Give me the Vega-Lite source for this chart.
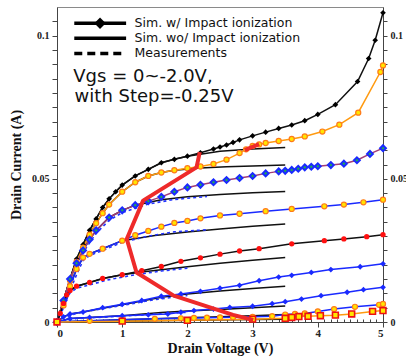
{
"$schema": "https://vega.github.io/schema/vega-lite/v6.json",
"width": 326, "height": 315,
"autosize": {"type": "none"},
"padding": {"left": 57, "top": 7, "right": 23, "bottom": 38},
"background": "white",
"config": {
 "view": {"stroke": "#8a8a8a", "strokeWidth": 1},
 "axis": {"grid": false, "domainColor": "#444", "tickColor": "#444", "labelFont": "Liberation Serif", "labelFontWeight": "bold", "labelFontSize": 10, "labelColor": "#222", "titleFont": "Liberation Serif", "titleFontWeight": "bold", "titleFontSize": 14, "titleColor": "#111", "labelOverlap": false, "labelBound": false}
},
"datasets": {
 "sim": [
  {"s":"c1","x":0,"y":0},{"s":"c1","x":0.1,"y":0.0074},{"s":"c1","x":0.2,"y":0.015},{"s":"c1","x":0.3,"y":0.022},{"s":"c1","x":0.4,"y":0.027},{"s":"c1","x":0.5,"y":0.032},{"s":"c1","x":0.6,"y":0.036},{"s":"c1","x":0.7,"y":0.04},{"s":"c1","x":0.8,"y":0.043},{"s":"c1","x":0.9,"y":0.0455},{"s":"c1","x":1.0,"y":0.0478},{"s":"c1","x":1.2,"y":0.051},{"s":"c1","x":1.4,"y":0.0533},{"s":"c1","x":1.6,"y":0.0556},{"s":"c1","x":1.8,"y":0.0568},{"s":"c1","x":2.0,"y":0.0579},{"s":"c1","x":2.2,"y":0.0591},{"s":"c1","x":2.4,"y":0.0604},{"s":"c1","x":2.5,"y":0.0611},{"s":"c1","x":2.6,"y":0.0618},{"s":"c1","x":2.7,"y":0.0627},{"s":"c1","x":2.8,"y":0.0636},{"s":"c1","x":3.0,"y":0.065},{"s":"c1","x":3.2,"y":0.0663},{"s":"c1","x":3.4,"y":0.0676},{"s":"c1","x":3.6,"y":0.0688},{"s":"c1","x":3.8,"y":0.0703},{"s":"c1","x":4.0,"y":0.0725},{"s":"c1","x":4.27,"y":0.0759},{"s":"c1","x":4.61,"y":0.084},{"s":"c1","x":4.78,"y":0.092},{"s":"c1","x":4.88,"y":0.0984},{"s":"c1","x":5.0,"y":0.108},
  {"s":"c2","x":0,"y":0},{"s":"c2","x":0.1,"y":0.007},{"s":"c2","x":0.2,"y":0.0145},{"s":"c2","x":0.3,"y":0.021},{"s":"c2","x":0.4,"y":0.026},{"s":"c2","x":0.5,"y":0.0305},{"s":"c2","x":0.6,"y":0.0345},{"s":"c2","x":0.7,"y":0.038},{"s":"c2","x":0.8,"y":0.041},{"s":"c2","x":1.0,"y":0.0455},{"s":"c2","x":1.2,"y":0.0488},{"s":"c2","x":1.4,"y":0.051},{"s":"c2","x":1.6,"y":0.0522},{"s":"c2","x":1.8,"y":0.053},{"s":"c2","x":2.0,"y":0.0537},{"s":"c2","x":2.2,"y":0.0543},{"s":"c2","x":2.4,"y":0.0552},{"s":"c2","x":2.6,"y":0.0567},{"s":"c2","x":2.8,"y":0.059},{"s":"c2","x":2.9,"y":0.0603},{"s":"c2","x":3.0,"y":0.0615},{"s":"c2","x":3.1,"y":0.062},{"s":"c2","x":3.2,"y":0.0625},{"s":"c2","x":3.4,"y":0.0632},{"s":"c2","x":3.6,"y":0.0639},{"s":"c2","x":3.8,"y":0.0648},{"s":"c2","x":4.07,"y":0.0665},{"s":"c2","x":4.33,"y":0.0689},{"s":"c2","x":4.62,"y":0.0731},{"s":"c2","x":4.96,"y":0.0873},{"s":"c2","x":5.0,"y":0.0896},
  {"s":"c3","x":0,"y":0},{"s":"c3","x":0.1,"y":0.0075},{"s":"c3","x":0.2,"y":0.015},{"s":"c3","x":0.3,"y":0.0205},{"s":"c3","x":0.4,"y":0.025},{"s":"c3","x":0.5,"y":0.0288},{"s":"c3","x":0.6,"y":0.032},{"s":"c3","x":0.8,"y":0.0365},{"s":"c3","x":1.0,"y":0.039},{"s":"c3","x":1.2,"y":0.0408},{"s":"c3","x":1.4,"y":0.0422},{"s":"c3","x":1.6,"y":0.0437},{"s":"c3","x":1.8,"y":0.0455},{"s":"c3","x":2.0,"y":0.047},{"s":"c3","x":2.2,"y":0.0479},{"s":"c3","x":2.4,"y":0.0488},{"s":"c3","x":2.6,"y":0.0496},{"s":"c3","x":2.8,"y":0.0503},{"s":"c3","x":3.0,"y":0.051},{"s":"c3","x":3.2,"y":0.0519},{"s":"c3","x":3.4,"y":0.0526},{"s":"c3","x":3.5,"y":0.0528},{"s":"c3","x":3.6,"y":0.0531},{"s":"c3","x":3.7,"y":0.0535},{"s":"c3","x":3.8,"y":0.054},{"s":"c3","x":3.9,"y":0.0542},{"s":"c3","x":4.0,"y":0.0544},{"s":"c3","x":4.2,"y":0.0548},{"s":"c3","x":4.4,"y":0.0553},{"s":"c3","x":4.6,"y":0.0565},{"s":"c3","x":4.8,"y":0.0587},{"s":"c3","x":5.0,"y":0.0607},
  {"s":"c4","x":0,"y":0},{"s":"c4","x":0.1,"y":0.0058},{"s":"c4","x":0.2,"y":0.0125},{"s":"c4","x":0.3,"y":0.0185},{"s":"c4","x":0.4,"y":0.0225},{"s":"c4","x":0.5,"y":0.0238},{"s":"c4","x":0.7,"y":0.0256},{"s":"c4","x":1.0,"y":0.0284},{"s":"c4","x":1.2,"y":0.0303},{"s":"c4","x":1.4,"y":0.0318},{"s":"c4","x":1.6,"y":0.0333},{"s":"c4","x":1.8,"y":0.0346},{"s":"c4","x":2.0,"y":0.0353},{"s":"c4","x":2.2,"y":0.0362},{"s":"c4","x":2.5,"y":0.0372},{"s":"c4","x":2.8,"y":0.0378},{"s":"c4","x":3.2,"y":0.0387},{"s":"c4","x":3.6,"y":0.0395},{"s":"c4","x":4.1,"y":0.0404},{"s":"c4","x":4.4,"y":0.041},{"s":"c4","x":4.7,"y":0.0418},{"s":"c4","x":5.0,"y":0.0427},
  {"s":"c5","x":0,"y":0},{"s":"c5","x":0.05,"y":0.003},{"s":"c5","x":0.1,"y":0.0065},{"s":"c5","x":0.15,"y":0.0095},{"s":"c5","x":0.2,"y":0.011},{"s":"c5","x":0.3,"y":0.0125},{"s":"c5","x":0.5,"y":0.0138},{"s":"c5","x":0.7,"y":0.0152},{"s":"c5","x":1.0,"y":0.0165},{"s":"c5","x":1.3,"y":0.0179},{"s":"c5","x":1.6,"y":0.0194},{"s":"c5","x":1.9,"y":0.0212},{"s":"c5","x":2.2,"y":0.0224},{"s":"c5","x":2.5,"y":0.0237},{"s":"c5","x":2.8,"y":0.0248},{"s":"c5","x":3.1,"y":0.0256},{"s":"c5","x":3.6,"y":0.0273},{"s":"c5","x":4.1,"y":0.0284},{"s":"c5","x":4.4,"y":0.029},{"s":"c5","x":4.75,"y":0.0298},{"s":"c5","x":5.0,"y":0.0305},
  {"s":"c6","x":0,"y":0},{"s":"c6","x":0.1,"y":0.0018},{"s":"c6","x":0.2,"y":0.0028},{"s":"c6","x":0.4,"y":0.0035},{"s":"c6","x":0.7,"y":0.005},{"s":"c6","x":1.0,"y":0.0062},{"s":"c6","x":1.3,"y":0.0075},{"s":"c6","x":1.6,"y":0.009},{"s":"c6","x":1.9,"y":0.0098},{"s":"c6","x":2.2,"y":0.0107},{"s":"c6","x":2.5,"y":0.0118},{"s":"c6","x":2.8,"y":0.0128},{"s":"c6","x":3.1,"y":0.0144},{"s":"c6","x":3.4,"y":0.0157},{"s":"c6","x":3.6,"y":0.0163},{"s":"c6","x":3.9,"y":0.0173},{"s":"c6","x":4.2,"y":0.0183},{"s":"c6","x":4.65,"y":0.0193},{"s":"c6","x":5.0,"y":0.0203},
  {"s":"c7","x":0,"y":0},{"s":"c7","x":0.2,"y":0.0012},{"s":"c7","x":0.5,"y":0.0016},{"s":"c7","x":1.0,"y":0.0022},{"s":"c7","x":1.4,"y":0.0025},{"s":"c7","x":1.7,"y":0.0028},{"s":"c7","x":1.9,"y":0.0034},{"s":"c7","x":2.1,"y":0.004},{"s":"c7","x":2.4,"y":0.0045},{"s":"c7","x":2.65,"y":0.0051},{"s":"c7","x":3.0,"y":0.0055},{"s":"c7","x":3.3,"y":0.0064},{"s":"c7","x":3.5,"y":0.0071},{"s":"c7","x":3.75,"y":0.008},{"s":"c7","x":4.05,"y":0.0092},{"s":"c7","x":4.45,"y":0.0104},{"s":"c7","x":4.7,"y":0.0113},{"s":"c7","x":5.0,"y":0.0121},
  {"s":"c8","x":0,"y":0},{"s":"c8","x":0.5,"y":0.0004},{"s":"c8","x":1.0,"y":0.0008},{"s":"c8","x":1.5,"y":0.0011},{"s":"c8","x":1.9,"y":0.0013},{"s":"c8","x":2.1,"y":0.0014},{"s":"c8","x":2.3,"y":0.0015},{"s":"c8","x":2.5,"y":0.0016},{"s":"c8","x":2.7,"y":0.0017},{"s":"c8","x":3.0,"y":0.0018},{"s":"c8","x":3.3,"y":0.002},{"s":"c8","x":3.5,"y":0.0026},{"s":"c8","x":3.65,"y":0.0028},{"s":"c8","x":3.8,"y":0.003},{"s":"c8","x":4.0,"y":0.0037},{"s":"c8","x":4.25,"y":0.0045},{"s":"c8","x":4.57,"y":0.0053},{"s":"c8","x":4.94,"y":0.006},{"s":"c8","x":5.0,"y":0.0063},
  {"s":"c9","x":0,"y":0},{"s":"c9","x":1.0,"y":0.0003},{"s":"c9","x":2.0,"y":0.0006},{"s":"c9","x":3.0,"y":0.001},{"s":"c9","x":3.5,"y":0.0013},{"s":"c9","x":3.6,"y":0.0016},{"s":"c9","x":3.71,"y":0.0019},{"s":"c9","x":3.85,"y":0.002},{"s":"c9","x":4.04,"y":0.0022},{"s":"c9","x":4.27,"y":0.0024},{"s":"c9","x":4.52,"y":0.0028},{"s":"c9","x":4.84,"y":0.0037},{"s":"c9","x":5.0,"y":0.004}
 ],
 "wo": [
  {"s":"w1","x":0,"y":0},{"s":"w1","x":0.1,"y":0.0074},{"s":"w1","x":0.2,"y":0.015},{"s":"w1","x":0.3,"y":0.022},{"s":"w1","x":0.4,"y":0.027},{"s":"w1","x":0.5,"y":0.032},{"s":"w1","x":0.6,"y":0.036},{"s":"w1","x":0.7,"y":0.04},{"s":"w1","x":0.8,"y":0.043},{"s":"w1","x":0.9,"y":0.0455},{"s":"w1","x":1.0,"y":0.0478},{"s":"w1","x":1.2,"y":0.051},{"s":"w1","x":1.4,"y":0.0533},{"s":"w1","x":1.6,"y":0.0556},{"s":"w1","x":1.8,"y":0.0568},{"s":"w1","x":2.0,"y":0.0579},{"s":"w1","x":2.5,"y":0.0596},{"s":"w1","x":3.0,"y":0.0604},{"s":"w1","x":3.5,"y":0.0609},
  {"s":"w2","x":0,"y":0},{"s":"w2","x":0.1,"y":0.007},{"s":"w2","x":0.2,"y":0.0145},{"s":"w2","x":0.3,"y":0.021},{"s":"w2","x":0.4,"y":0.026},{"s":"w2","x":0.5,"y":0.0305},{"s":"w2","x":0.6,"y":0.0345},{"s":"w2","x":0.7,"y":0.038},{"s":"w2","x":0.8,"y":0.041},{"s":"w2","x":1.0,"y":0.0455},{"s":"w2","x":1.2,"y":0.0488},{"s":"w2","x":1.4,"y":0.051},{"s":"w2","x":1.6,"y":0.0522},{"s":"w2","x":1.8,"y":0.053},{"s":"w2","x":2.2,"y":0.0538},{"s":"w2","x":2.6,"y":0.0542},{"s":"w2","x":3.0,"y":0.0545},{"s":"w2","x":3.5,"y":0.0548},
  {"s":"w3","x":0,"y":0},{"s":"w3","x":0.1,"y":0.0075},{"s":"w3","x":0.2,"y":0.015},{"s":"w3","x":0.3,"y":0.0205},{"s":"w3","x":0.4,"y":0.025},{"s":"w3","x":0.5,"y":0.0288},{"s":"w3","x":0.6,"y":0.032},{"s":"w3","x":0.8,"y":0.0365},{"s":"w3","x":1.0,"y":0.039},{"s":"w3","x":1.2,"y":0.0408},{"s":"w3","x":1.6,"y":0.0427},{"s":"w3","x":2.0,"y":0.0437},{"s":"w3","x":2.5,"y":0.0445},{"s":"w3","x":3.0,"y":0.0451},{"s":"w3","x":3.5,"y":0.0456},
  {"s":"w4","x":0,"y":0},{"s":"w4","x":0.1,"y":0.0058},{"s":"w4","x":0.2,"y":0.0125},{"s":"w4","x":0.3,"y":0.0185},{"s":"w4","x":0.4,"y":0.0225},{"s":"w4","x":0.5,"y":0.0238},{"s":"w4","x":0.7,"y":0.0256},{"s":"w4","x":1.0,"y":0.0284},{"s":"w4","x":1.5,"y":0.0302},{"s":"w4","x":2.0,"y":0.0314},{"s":"w4","x":2.5,"y":0.0325},{"s":"w4","x":3.0,"y":0.0334},{"s":"w4","x":3.5,"y":0.0342},
  {"s":"w5","x":0,"y":0},{"s":"w5","x":0.05,"y":0.003},{"s":"w5","x":0.1,"y":0.0065},{"s":"w5","x":0.15,"y":0.0095},{"s":"w5","x":0.2,"y":0.011},{"s":"w5","x":0.3,"y":0.0125},{"s":"w5","x":0.5,"y":0.0138},{"s":"w5","x":0.7,"y":0.0152},{"s":"w5","x":1.0,"y":0.0165},{"s":"w5","x":1.3,"y":0.0175},{"s":"w5","x":2.0,"y":0.0193},{"s":"w5","x":2.5,"y":0.0205},{"s":"w5","x":3.0,"y":0.0216},{"s":"w5","x":3.5,"y":0.0225},
  {"s":"w6","x":0,"y":0},{"s":"w6","x":0.1,"y":0.0018},{"s":"w6","x":0.2,"y":0.0028},{"s":"w6","x":0.4,"y":0.0035},{"s":"w6","x":0.7,"y":0.0048},{"s":"w6","x":1.0,"y":0.006},{"s":"w6","x":1.6,"y":0.0086},{"s":"w6","x":2.0,"y":0.0098},{"s":"w6","x":2.5,"y":0.0108},{"s":"w6","x":3.0,"y":0.0117},{"s":"w6","x":3.5,"y":0.0125},
  {"s":"w7","x":0,"y":0},{"s":"w7","x":0.2,"y":0.0012},{"s":"w7","x":0.5,"y":0.0016},{"s":"w7","x":1.0,"y":0.0022},{"s":"w7","x":1.6,"y":0.0033},{"s":"w7","x":2.0,"y":0.0038},{"s":"w7","x":2.5,"y":0.0044},{"s":"w7","x":3.0,"y":0.005},{"s":"w7","x":3.5,"y":0.0056},
  {"s":"w8","x":0,"y":0},{"s":"w8","x":1.0,"y":0.0008},{"s":"w8","x":2.0,"y":0.0015},{"s":"w8","x":3.0,"y":0.0022},{"s":"w8","x":3.5,"y":0.0026},
  {"s":"w9","x":0,"y":0},{"s":"w9","x":1.0,"y":0.0003},{"s":"w9","x":2.0,"y":0.0006},{"s":"w9","x":3.0,"y":0.0009},{"s":"w9","x":3.5,"y":0.001}
 ],
 "meas": [
  {"s":"m3","x":0,"y":0},{"s":"m3","x":0.1,"y":0.007},{"s":"m3","x":0.2,"y":0.0145},{"s":"m3","x":0.3,"y":0.0198},{"s":"m3","x":0.4,"y":0.0243},{"s":"m3","x":0.6,"y":0.031},{"s":"m3","x":0.8,"y":0.0355},{"s":"m3","x":1.0,"y":0.0382},{"s":"m3","x":1.4,"y":0.0412},{"s":"m3","x":1.8,"y":0.0428},{"s":"m3","x":2.3,"y":0.0438},
  {"s":"m4","x":0,"y":0},{"s":"m4","x":0.1,"y":0.005},{"s":"m4","x":0.2,"y":0.011},{"s":"m4","x":0.3,"y":0.0165},{"s":"m4","x":0.4,"y":0.0215},{"s":"m4","x":0.5,"y":0.0232},{"s":"m4","x":0.7,"y":0.025},{"s":"m4","x":1.0,"y":0.0278},{"s":"m4","x":1.4,"y":0.03},{"s":"m4","x":1.8,"y":0.0315},{"s":"m4","x":2.3,"y":0.0322},
  {"s":"m5","x":0,"y":0},{"s":"m5","x":0.1,"y":0.006},{"s":"m5","x":0.2,"y":0.0102},{"s":"m5","x":0.3,"y":0.0118},{"s":"m5","x":0.5,"y":0.013},{"s":"m5","x":0.8,"y":0.0148},{"s":"m5","x":1.2,"y":0.0165},{"s":"m5","x":1.6,"y":0.0178},{"s":"m5","x":2.0,"y":0.0188},
  {"s":"m6","x":0,"y":0},{"s":"m6","x":0.1,"y":0.0015},{"s":"m6","x":0.3,"y":0.003},{"s":"m6","x":0.6,"y":0.0043},{"s":"m6","x":1.0,"y":0.0058},{"s":"m6","x":1.5,"y":0.0078},{"s":"m6","x":2.0,"y":0.0093},
  {"s":"m7","x":0,"y":0},{"s":"m7","x":0.3,"y":0.0012},{"s":"m7","x":0.8,"y":0.0018},{"s":"m7","x":1.4,"y":0.0026},{"s":"m7","x":2.0,"y":0.0034}
 ],
 "red": [
  {"g":"a","o":1,"x":2.19,"y":0.0593},{"g":"a","o":2,"x":2.14,"y":0.054},{"g":"a","o":3,"x":1.32,"y":0.0424},{"g":"a","o":4,"x":1.3,"y":0.0413},{"g":"a","o":5,"x":1.07,"y":0.029},{"g":"a","o":6,"x":1.22,"y":0.0173},{"g":"a","o":7,"x":1.79,"y":0.0092},{"g":"a","o":8,"x":2.7,"y":0.0025},{"g":"a","o":9,"x":3.01,"y":0.0007},
  {"g":"b","o":1,"x":2.88,"y":0.06},{"g":"b","o":2,"x":3.1,"y":0.0621}
 ],
 "legline": [{"k":"a","x":0.265,"x2":1.06,"y":0.1043},{"k":"b","x":0.265,"x2":1.06,"y":0.0991}],
 "legdash": [{"k":"c","x":0.265,"x2":1.06,"y":0.0938}],
 "legpt": [{"x":0.66,"y":0.1043}],
 "legtxt": [{"x":1.19,"y":0.1043,"t":"Sim. w/ Impact ionization"},{"x":1.19,"y":0.0991,"t":"Sim. wo/ Impact ionization"},{"x":1.19,"y":0.0938,"t":"Measurements"}],
 "vgs": [{"x":0.25,"y":0.0854,"t":"Vgs = 0~-2.0V,"},{"x":0.27,"y":0.0784,"t":"with Step=-0.25V"}]
},
"encoding": {
 "x": {"field": "x", "type": "quantitative", "scale": {"domain": [0, 5], "nice": false, "zero": false}, "axis": null},
 "y": {"field": "y", "type": "quantitative", "scale": {"domain": [0, 0.11], "nice": false}, "axis": null}
},
"resolve": {"axis": {"x": "independent", "y": "independent"}},
"layer": [
 {"data": {"name": "wo"}, "mark": {"type": "line", "color": "#111", "strokeWidth": 1.5},
  "encoding": {
   "x": {"field": "x", "type": "quantitative", "scale": {"domain": [0, 5], "nice": false, "zero": false},
     "axis": {"title": "Drain Voltage (V)", "values": [0,0.1,0.2,0.3,0.4,0.5,0.6,0.7,0.8,0.9,1,1.1,1.2,1.3,1.4,1.5,1.6,1.7,1.8,1.9,2,2.1,2.2,2.3,2.4,2.5,2.6,2.7,2.8,2.9,3,3.1,3.2,3.3,3.4,3.5,3.6,3.7,3.8,3.9,4,4.1,4.2,4.3,4.4,4.5,4.6,4.7,4.8,4.9,5],
       "labelExpr": "datum.value % 1 === 0 ? format(datum.value, 'd') : ''",
       "tickSize": {"condition": {"test": "datum.value % 1 === 0", "value": 5}, "value": -3},
       "labelFontSize": 11, "labelPadding": 0, "titlePadding": 3}},
   "y": {"field": "y", "type": "quantitative", "scale": {"domain": [0, 0.11], "nice": false},
     "axis": {"title": "Drain Current (A)", "values": [0,0.005,0.01,0.015,0.02,0.025,0.03,0.035,0.04,0.045,0.05,0.055,0.06,0.065,0.07,0.075,0.08,0.085,0.09,0.095,0.1,0.105],
       "labelExpr": "datum.value === 0 ? '0' : datum.value === 0.05 ? '0.05' : datum.value === 0.1 ? '0.1' : ''",
       "tickSize": 5, "labelPadding": 3, "titlePadding": 8}},
   "detail": {"field": "s"}}},
 {"data": {"name": "meas"}, "mark": {"type": "line", "color": "#2233ff", "strokeWidth": 1.6, "strokeDash": [3, 3]},
  "encoding": {"detail": {"field": "s"}}},
 {"data": {"name": "sim"}, "mark": {"type": "line", "strokeWidth": 1.5},
  "encoding": {
   "y": {"field": "y", "type": "quantitative", "scale": {"domain": [0, 0.11], "nice": false},
     "axis": {"orient": "right", "title": null, "values": [0,0.005,0.01,0.015,0.02,0.025,0.03,0.035,0.04,0.045,0.05,0.055,0.06,0.065,0.07,0.075,0.08,0.085,0.09,0.095,0.1,0.105],
       "labelExpr": "datum.value === 0 ? '0' : datum.value === 0.05 ? '0.05' : datum.value === 0.1 ? '0.1' : ''",
       "tickSize": 4, "labelPadding": 3}},
   "color": {"field": "s", "type": "nominal", "legend": null,
     "scale": {"domain": ["c1","c2","c3","c4","c5","c6","c7","c8","c9"], "range": ["#111111","#ff9a10","#a03c78","#1a2aff","#111111","#1a2aff","#1a2aff","#1a2aff","#ff9a10"]}}}},
 {"data": {"name": "sim"}, "transform": [{"filter": "datum.s === 'c1'"}],
  "mark": {"type": "point", "shape": "diamond", "filled": true, "color": "#000", "size": 32, "opacity": 1}},
 {"data": {"name": "sim"}, "transform": [{"filter": "datum.s === 'c2' || datum.s === 'c4' || datum.s === 'c8'"}],
  "mark": {"type": "point", "shape": "circle", "filled": true, "fill": "#ffe600", "stroke": "#ff7a1a", "strokeWidth": 1.2, "size": 26, "opacity": 1}},
 {"data": {"name": "sim"}, "transform": [{"filter": "datum.s === 'c3'"}],
  "mark": {"type": "point", "shape": "diamond", "filled": true, "fill": "#22aa55", "stroke": "#1a2aff", "strokeWidth": 2, "size": 34, "opacity": 1}},
 {"data": {"name": "sim"}, "transform": [{"filter": "datum.s === 'c5'"}],
  "mark": {"type": "point", "shape": "circle", "filled": true, "color": "#ff1010", "size": 28, "opacity": 1}},
 {"data": {"name": "sim"}, "transform": [{"filter": "datum.s === 'c6' || datum.s === 'c7'"}],
  "mark": {"type": "point", "shape": "diamond", "filled": true, "color": "#1a2aff", "size": 34, "opacity": 1}},
 {"data": {"name": "sim"}, "transform": [{"filter": "datum.s === 'c9'"}],
  "mark": {"type": "point", "shape": "square", "filled": true, "fill": "#ffe600", "stroke": "#ee1111", "strokeWidth": 1.6, "size": 34, "opacity": 1}},
 {"data": {"name": "red"}, "mark": {"type": "line", "color": "#ee2a2a", "strokeWidth": 4, "strokeJoin": "round"},
  "encoding": {"detail": {"field": "g"}, "order": {"field": "o", "type": "quantitative"}}},
 {"data": {"name": "legline"}, "mark": {"type": "rule", "color": "#000", "strokeWidth": 3.5},
  "encoding": {"x2": {"field": "x2"}}},
 {"data": {"name": "legdash"}, "mark": {"type": "rule", "color": "#000", "strokeWidth": 3.5, "strokeDash": [8, 5]},
  "encoding": {"x2": {"field": "x2"}}},
 {"data": {"name": "legpt"}, "mark": {"type": "point", "shape": "diamond", "filled": true, "color": "#000", "size": 130, "opacity": 1}},
 {"data": {"name": "legtxt"}, "mark": {"type": "text", "align": "left", "baseline": "middle", "font": "DejaVu Sans", "fontSize": 12.5, "color": "#111"},
  "encoding": {"text": {"field": "t"}}},
 {"data": {"name": "vgs"}, "mark": {"type": "text", "align": "left", "baseline": "middle", "font": "DejaVu Sans", "fontSize": 18, "color": "#111"},
  "encoding": {"text": {"field": "t"}}}
]
}
